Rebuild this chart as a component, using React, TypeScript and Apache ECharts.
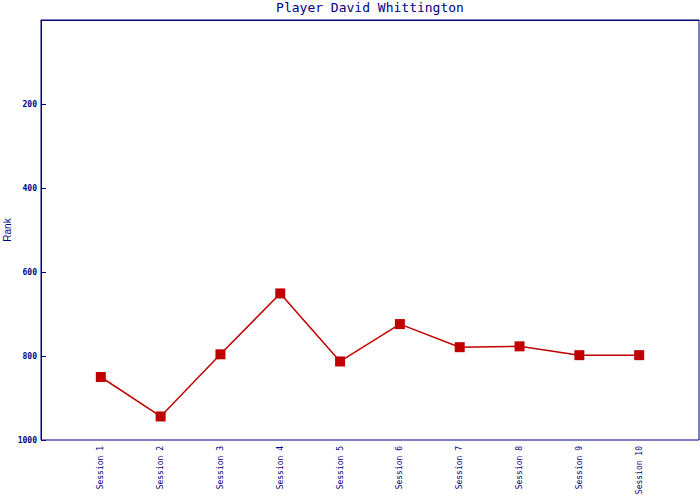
import React, { useEffect, useRef } from "react";
import * as echarts from "echarts";

const titleText = "Player David Whittington";
const yAxisName = "Rank";
const sessions = [
  "Session 1", "Session 2", "Session 3", "Session 4", "Session 5",
  "Session 6", "Session 7", "Session 8", "Session 9", "Session 10",
];
const ranks = [850, 944, 796, 651, 813, 724, 779, 777, 798, 798];
const yTicks = [0, 200, 400, 600, 800, 1000];

const NAVY = "#000080";
const RED = "#c00000";

export default function App() {
  const ref = useRef<HTMLDivElement>(null);
  useEffect(() => {
    if (!ref.current) return;
    const chart = echarts.init(ref.current, null, { renderer: "svg" });
    const cats = ["", ...sessions, ""];
    const data = [null, ...ranks, null];
    chart.setOption({
      animation: false,
      backgroundColor: "#ffffff",
      title: {
        text: titleText,
        left: 370,
        textAlign: "center",
        top: 0,
        padding: [1, 0, 0, 0],
        textStyle: {
          fontFamily: "DejaVu Sans Mono",
          fontSize: 13,
          fontWeight: "normal",
          color: NAVY,
        },
      },
      graphic: [
        {
          type: "text",
          x: 7,
          y: 230,
          rotation: Math.PI / 2,
          style: {
            text: yAxisName,
            fill: NAVY,
            fontFamily: "Liberation Sans",
            fontSize: 10,
            textAlign: "center",
            textVerticalAlign: "middle",
          },
        },
      ],
      grid: {
        left: 41,
        right: 1,
        top: 20,
        bottom: 60,
        containLabel: false,
        outerBoundsMode: "none",
        show: true,
        borderColor: NAVY,
        borderWidth: 1,
        backgroundColor: "transparent",
      },
      xAxis: {
        type: "category",
        data: cats,
        boundaryGap: false,
        axisLine: { show: true, lineStyle: { color: NAVY, width: 1 } },
        axisTick: { show: false },
        splitLine: { show: false },
        axisLabel: {
          interval: 0,
          rotate: 90,
          margin: 6,
          color: NAVY,
          fontFamily: "DejaVu Sans Mono",
          fontSize: 8,
        },
      },
      yAxis: {
        type: "value",
        inverse: true,
        min: yTicks[0],
        max: yTicks[yTicks.length - 1],
        interval: 200,
        axisLine: { show: true, lineStyle: { color: NAVY, width: 1 } },
        axisTick: { show: true, inside: true, length: 5, lineStyle: { color: NAVY, width: 1 } },
        splitLine: { show: false },
        axisLabel: {
          margin: 4,
          color: NAVY,
          fontFamily: "DejaVu Sans Mono",
          fontWeight: "bold",
          fontSize: 8,
          formatter: (v: number) => (v === 0 ? "" : String(v)),
        },
      },
      series: [
        {
          type: "line",
          data,
          connectNulls: false,
          symbol: "rect",
          symbolSize: 10,
          itemStyle: { color: RED },
          lineStyle: { color: RED, width: 1.5 },
        },
      ],
    });
    return () => chart.dispose();
  }, []);
  return (
    <div
      ref={ref}
      style={{ position: "fixed", left: 0, top: 0, width: 700, height: 500 }}
    />
  );
}
